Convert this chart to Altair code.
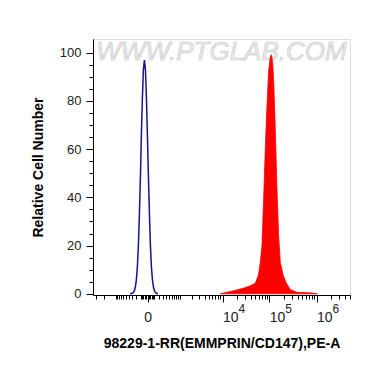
import altair as alt
import pandas as pd

# ---- data ----
blue_x = [-360, -293, -267, -241, -217, -194, -172, -151, -131, -112, -94, -77, -61, -45,
          -30, -16, -3, 11, 25, 39, 54, 70, 87, 105, 124, 143, 175]
blue_y = [0, 0.2, 0.5, 1.3, 2.9, 6.0, 11.3, 20.2, 33, 48.5, 66.4, 81.5, 93, 97,
          93, 81.5, 66.4, 48.5, 33, 20.2, 11.3, 6.0, 2.9, 1.3, 0.5, 0.2, 0]

red_x = [8900, 17000, 27900, 39400, 50300, 58300, 64300, 69800, 75600, 82100, 89200,
         96500, 104800, 111700, 118400, 124300, 133900, 145400, 157200, 170800,
         197900, 229100, 278500, 392200, 740000, 1040000]
red_y = [0, 1.2, 2.3, 3.3, 4.4, 7.5, 13, 20, 39, 60, 78,
         92, 98.3, 99.2, 95, 87, 68, 43, 24.5, 13,
         7.5, 4.5, 1.7, 0.6, 0.4, 0]

x_major = [0, 10000, 100000, 1000000]
x_minor = ([-3000, -2000, -1000] + [-900, -800, -700, -600, -500, -400, -300, -200, -100]
           + [-80, -60, -40, -20, 20, 40, 60, 80]
           + [100, 200, 300, 400, 500, 600, 700, 800, 900]
           + [1000, 2000, 3000, 4000, 5000, 6000, 7000, 8000, 9000]
           + [20000, 30000, 40000, 50000, 60000, 70000, 80000, 90000]
           + [200000, 300000, 400000, 500000, 600000, 700000, 800000, 900000]
           + [2000000, 3000000, 4000000, 5000000])
exp_values = [10000, 100000, 1000000]
exp_text = ["4", "5", "6"]
y_ticks = list(range(0, 105, 5))

blue = pd.DataFrame({"x": blue_x, "y": blue_y})
red = pd.DataFrame({"x": red_x, "y": red_y})
exps = pd.DataFrame({"x": exp_values, "t": exp_text})

FONT = "Liberation Sans"
W, H = 257, 256

xscale = alt.Scale(type="symlog", constant=267, domain=[-3550, 5100000], nice=False)
yscale = alt.Scale(domain=[-0.5, 105.7], nice=False, zero=False)

xaxis = alt.Axis(
    values=sorted(x_major + x_minor),
    title="98229-1-RR(EMMPRIN/CD147),PE-A",
    titleFont=FONT, titleFontSize=14, titleFontWeight="bold", titleColor="black",
    titlePadding=12,
    labelExpr="datum.value == 0 ? '0' : (indexof([10000,100000,1000000], datum.value) >= 0 ? '10' : '')",
    labelAlign={"condition": {"test": "datum.value == 0", "value": "center"}, "value": "left"},
    labelFont=FONT, labelFontSize=14, labelColor="#222", labelPadding=8,
    labelOverlap=False, labelFlush=False,
    tickSize={"condition": {"test": "indexof([0,10000,100000,1000000], datum.value) >= 0", "value": 7}, "value": 4},
    tickColor="black", domainColor="black", grid=False,
)
yaxis = alt.Axis(
    values=y_ticks,
    title="Relative Cell Number",
    titleFont=FONT, titleFontSize=14, titleFontWeight="bold", titleColor="black",
    titlePadding=14,
    labelExpr="datum.value % 20 == 0 ? datum.label : ''",
    labelFont=FONT, labelFontSize=13, labelColor="#222", labelPadding=5,
    labelOverlap=False, labelFlush=False,
    tickSize={"condition": {"test": "datum.value % 20 == 0", "value": 7}, "value": 4},
    tickColor="black", domainColor="black", grid=False,
)

watermark = alt.Chart(pd.DataFrame({"t": ["WWW.PTGLAB.COM"]})).mark_text(
    font=FONT, fontSize=26, fontStyle="italic", fill="#ececec", stroke="#c4c4c4",
    strokeWidth=0.6, align="center", baseline="middle"
).encode(text="t:N", x=alt.value(W / 2), y=alt.value(13))

red_area = alt.Chart(red).mark_area(color="#ff0000", stroke="#ff0000", strokeWidth=0.8).encode(
    x=alt.X("x:Q", scale=xscale, axis=xaxis),
    y=alt.Y("y:Q", scale=yscale, axis=yaxis),
)

blue_line = alt.Chart(blue).mark_line(color="#14148c", strokeWidth=1.5).encode(
    x=alt.X("x:Q", scale=xscale, axis=xaxis),
    y=alt.Y("y:Q", scale=yscale, axis=yaxis),
)

exp_layer = alt.Chart(exps).mark_text(
    font=FONT, fontSize=12, align="left", baseline="middle", dx=16, color="#222"
).encode(
    x=alt.X("x:Q", scale=xscale, axis=xaxis),
    y=alt.value(H + 14),
    text="t:N",
)

chart = alt.layer(watermark, red_area, blue_line, exp_layer).properties(
    width=W, height=H,
    autosize=alt.AutoSizeParams(type="none"),
    padding={"left": 85, "top": 31, "right": 12, "bottom": 64},
).configure_view(stroke="black", strokeWidth=1).configure(background="white")

chart.save("out.html", embed_options={"renderer": "svg", "actions": False})
